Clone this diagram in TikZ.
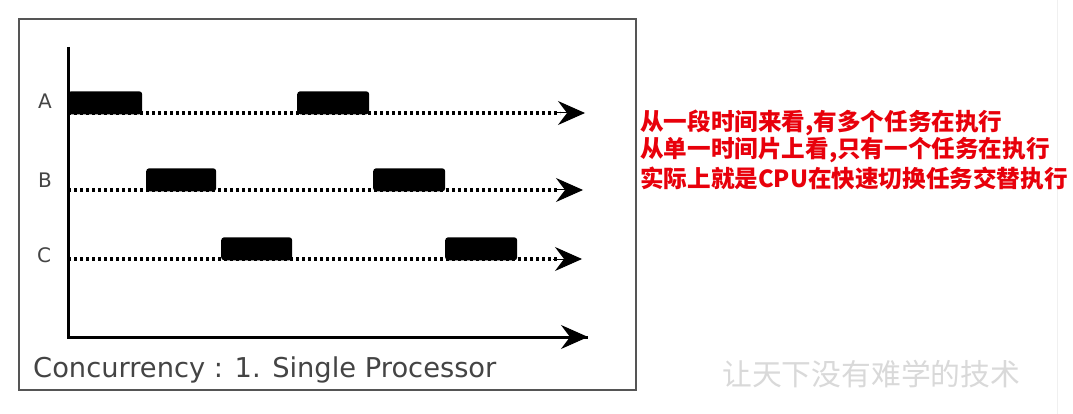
\documentclass[tikz,border=0pt]{standalone}
\usepackage{fontspec}
\setmainfont{DejaVu Sans}
\newfontfamily\cjk{Noto Sans CJK SC}
\usetikzlibrary{arrows.meta}
\definecolor{framegray}{HTML}{555555}
\definecolor{labelgray}{HTML}{444444}
\definecolor{wmgray}{HTML}{D9D9D9}
\definecolor{txtred}{HTML}{E8000B}
\tikzset{
  frame/.style={draw=framegray, line width=2pt},
  axis/.style={draw=black, line width=3pt},
  dotline/.style={draw=black, line width=3.5pt, dash pattern=on 3pt off 3pt},
  tip/.style={-{Stealth[length=27pt,width=24pt,inset=9pt]}, line width=1pt},
  bar/.style={fill=black, rounded corners=3pt, inner sep=0pt, minimum width=72pt, minimum height=23pt, anchor=south west},
  rowlabel/.style={text=labelgray, font=\fontsize{20}{22}\selectfont, inner sep=0pt},
  redtxt/.style={text=txtred, font=\cjk\bfseries\fontsize{23.6}{27}\selectfont, anchor=west, inner sep=0pt, align=left},
}
\begin{document}
\begin{tikzpicture}[x=1pt,y=-1pt]
\useasboundingbox[fill=white] (0,0) rectangle (1073,414);
% faint right line
\draw[gray!12, line width=1pt] (1057,0) -- (1057,414);
% frame
\node[frame, minimum width=617pt, minimum height=371pt, anchor=north west, inner sep=0pt] (box) at (18,18) {};
% axes
\coordinate (ytop) at (68,47);
\coordinate (orig) at (68,337);
\coordinate (xend) at (588,337);
\draw[axis] (ytop) -- (orig) -- (xend);
\draw[tip, fill=black] (560,337) -- (xend);
% rows
\coordinate (A0) at (68,113);
\coordinate (Aend) at (585,113);
\coordinate (B0) at (68,190);
\coordinate (Bend) at (583,190);
\coordinate (C0) at (68,259);
\coordinate (Cend) at (582,259);
\draw[dotline] (A0) -- (560,113);
\draw[dotline] (B0) -- (558,190);
\draw[dotline] (C0) -- (557,259);
\draw[tip] (556,113) -- (Aend);
\draw[tip] (554,190) -- (Bend);
\draw[tip] (553,259) -- (Cend);
% bars
\node[bar, minimum width=74pt] (a1) at (68,114.5) {};
\node[bar] (a2) at (297,114.5) {};
\node[bar, minimum width=70pt] (b1) at (146,191.5) {};
\node[bar] (b2) at (373,191.5) {};
\node[bar, minimum width=71pt] (c1) at (221,260.5) {};
\node[bar] (c2) at (445,260.5) {};
% labels
\node[rowlabel] (la) at (45,101) {A};
\node[rowlabel] (lb) at (45,180) {B};
\node[rowlabel] (lc) at (44,255) {C};
\node[text=labelgray, font=\fontsize{27.3}{30}\selectfont, anchor=west, inner sep=0pt] (cap) at (33,370) {Concurrency : 1. Single Processor};
% red text
\node[redtxt] (t1) at (640,123) {从一段时间来看,有多个任务在执行};
\node[redtxt] (t2) at (640,150.5) {从单一时间片上看,只有一个任务在执行};
\node[redtxt] (t3) at (640,178) {实际上就是CPU在快速切换任务交替执行};
% watermark
\node[text=wmgray, font=\cjk\fontsize{29.8}{32}\selectfont, anchor=west, inner sep=0pt] (wm) at (722,374) {让天下没有难学的技术};
\end{tikzpicture}
\end{document}
